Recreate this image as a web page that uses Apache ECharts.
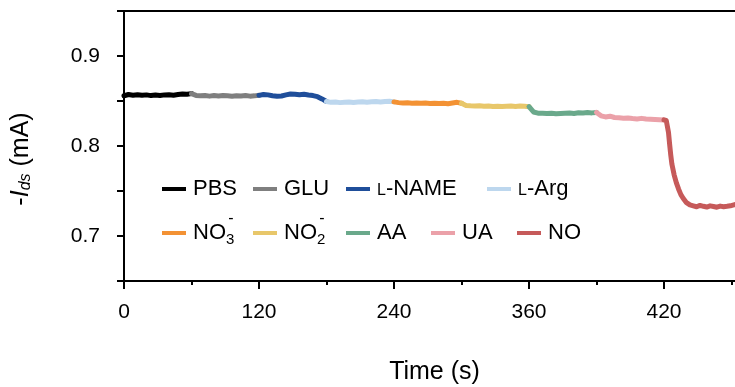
<!DOCTYPE html>
<html>
<head>
<meta charset="utf-8">
<script src="https://cdn.jsdelivr.net/npm/echarts@6/dist/echarts.min.js"></script>
<style>
  html, body { margin: 0; padding: 0; background: #ffffff; }
  #chart { width: 735px; height: 387px; }
</style>
</head>
<body>
<div id="chart"></div>
<script>
// Drain current (-Ids, mA) recorded while analytes are added one after another.
const segmentNames = ['PBS', 'GLU', 'L-NAME', 'L-Arg', 'NO3-', 'NO2-', 'AA', 'UA', 'NO'];
const segmentStarts = [0, 60, 120, 180, 240, 300, 360, 420];
const sampleStep = 4; // seconds between readings

const pbsCurrent   = [0.8558, 0.8572, 0.8565, 0.8570, 0.8563, 0.8568, 0.8560, 0.8566, 0.8562, 0.8568, 0.8570, 0.8565, 0.8572, 0.8578, 0.8576, 0.8582];
const gluCurrent   = [0.8582, 0.8562, 0.8558, 0.8562, 0.8554, 0.8560, 0.8556, 0.8562, 0.8558, 0.8553, 0.8559, 0.8556, 0.8561, 0.8554, 0.8557, 0.8563];
const lnameCurrent = [0.8563, 0.8573, 0.8568, 0.8558, 0.8553, 0.8556, 0.8568, 0.8578, 0.8576, 0.8570, 0.8574, 0.8566, 0.8560, 0.8548, 0.8523, 0.8495];
const largCurrent  = [0.8495, 0.8485, 0.8488, 0.8482, 0.8486, 0.8490, 0.8484, 0.8488, 0.8492, 0.8487, 0.8491, 0.8494, 0.8489, 0.8495, 0.8498, 0.8490];
const no3Current   = [0.8490, 0.8482, 0.8478, 0.8480, 0.8476, 0.8479, 0.8474, 0.8477, 0.8473, 0.8476, 0.8472, 0.8475, 0.8470, 0.8478, 0.8485, 0.8475];
const no2Current   = [0.8475, 0.8450, 0.8446, 0.8444, 0.8447, 0.8441, 0.8444, 0.8439, 0.8442, 0.8438, 0.8441, 0.8444, 0.8440, 0.8445, 0.8442, 0.8437];
const aaCurrent    = [0.8437, 0.8378, 0.8365, 0.8363, 0.8361, 0.8365, 0.8359, 0.8362, 0.8364, 0.8367, 0.8361, 0.8369, 0.8366, 0.8371, 0.8368, 0.8373];
const uaCurrent    = [0.8373, 0.8335, 0.8323, 0.8331, 0.8317, 0.8313, 0.8309, 0.8311, 0.8305, 0.8301, 0.8307, 0.8300, 0.8297, 0.8295, 0.8293, 0.8290];

// NO response: sharp drop, read at uneven times
const noTime    = [480, 482, 483, 484, 485, 486, 487, 489, 491, 493, 495, 497, 500, 503, 506, 509, 512, 515, 518, 521, 524, 527, 530, 533, 536, 539, 542, 543];
const noCurrent = [0.8290, 0.8285, 0.8265, 0.8150, 0.8020, 0.7900, 0.7800, 0.7680, 0.7590, 0.7520, 0.7460, 0.7420, 0.7370, 0.7345, 0.7335, 0.7325, 0.7340, 0.7330, 0.7322, 0.7335, 0.7328, 0.7320, 0.7332, 0.7326, 0.7330, 0.7335, 0.7345, 0.7350];

const xTickLabels = ['0', '120', '240', '360', '420'];
const yTickLabels = ['0.7', '0.8', '0.9'];

const segmentColors = ['#000000', '#7f7f7f', '#1f4e9a', '#bdd7ee', '#f39234', '#e8c76a', '#6aa98b', '#eba1a9', '#c65a5a'];

// legend placement: [left, top] for each entry
const legendSpots = [[162, 167], [253, 167], [346, 167], [487, 167], [162, 211], [253, 211], [346, 211], [431, 211], [517, 211]];

const legendRichNames = {
  'PBS': 'PBS',
  'GLU': 'GLU',
  'L-NAME': '{sc|L}-NAME',
  'L-Arg': '{sc|L}-Arg',
  'NO3-': 'NO{sub|3}{sup|-}',
  'NO2-': 'NO{sub|2}{sup|-}',
  'AA': 'AA',
  'UA': 'UA',
  'NO': 'NO'
};

const FONT = 'Liberation Sans, Arial, sans-serif';

const segmentValues = [pbsCurrent, gluCurrent, lnameCurrent, largCurrent, no3Current, no2Current, aaCurrent, uaCurrent];

function lineSeries(name, color, points) {
  return {
    name: name,
    type: 'line',
    xAxisIndex: 0,
    yAxisIndex: 0,
    showSymbol: false,
    symbol: 'none',
    lineStyle: { color: color, width: 5, join: 'round', cap: 'round' },
    itemStyle: { color: color },
    data: points
  };
}

const series = segmentValues.map((vals, k) =>
  lineSeries(segmentNames[k], segmentColors[k], vals.map((v, i) => [segmentStarts[k] + i * sampleStep, v]))
);
series.push(lineSeries(segmentNames[8], segmentColors[8], noTime.map((t, i) => [t, noCurrent[i]])));

const legendRich = {
  sc:  { fontSize: 16, lineHeight: 16, fontFamily: FONT, color: '#000', padding: [4, 0, 0, 0] },
  sub: { fontSize: 15, lineHeight: 15, fontFamily: FONT, color: '#000', padding: [13, 0, 0, 0] },
  sup: { fontSize: 16, lineHeight: 16, fontFamily: FONT, color: '#000', padding: [0, 0, 28, -6] }
};

const legends = segmentNames.map((name, k) => ({
  data: [name],
  left: legendSpots[k][0],
  top: legendSpots[k][1],
  padding: 0,
  icon: 'rect',
  itemWidth: 24,
  itemHeight: 4,
  selectedMode: false,
  formatter: n => legendRichNames[n],
  textStyle: { fontSize: 22, fontFamily: FONT, color: '#000', lineHeight: 44, padding: [0, 0, 0, 2], rich: legendRich }
}));

const axisBlack = { color: '#000', width: 2 };

const option = {
  animation: false,
  backgroundColor: '#ffffff',
  grid: { left: 124, top: 11, bottom: 106, right: -64, outerBoundsMode: 'none', containLabel: false },
  legend: legends,
  xAxis: [
    {
      type: 'value',
      position: 'bottom',
      min: 0,
      max: 600,
      interval: 120,
      axisLine: { show: true, onZero: false, lineStyle: axisBlack },
      axisTick: { show: true, length: 8, inside: false, lineStyle: axisBlack },
      minorTick: { show: true, splitNumber: 2, length: 4, lineStyle: axisBlack },
      splitLine: { show: false },
      minorSplitLine: { show: false },
      axisLabel: {
        show: true,
        margin: 21,
        fontSize: 21,
        fontFamily: FONT,
        color: '#000',
        showMinLabel: true,
        showMaxLabel: true,
        formatter: v => {
          const idx = Math.round(v / 120);
          if (Math.abs(v - idx * 120) > 1e-6) return '';
          return xTickLabels[idx] !== undefined ? xTickLabels[idx] : '';
        }
      },
      name: 'Time (s)',
      nameLocation: 'middle',
      nameGap: 79,
      nameTextStyle: { fontSize: 25, fontFamily: FONT, color: '#000', padding: [0, 54, 0, 0] }
    },
    {
      type: 'value',
      position: 'top',
      min: 0,
      max: 600,
      axisLine: { show: true, onZero: false, lineStyle: axisBlack },
      axisTick: { show: false },
      axisLabel: { show: false },
      splitLine: { show: false }
    }
  ],
  yAxis: {
    type: 'value',
    min: 0.65,
    max: 0.95,
    interval: 0.05,
    axisLine: { show: true, onZero: false, lineStyle: axisBlack },
    axisTick: { show: true, length: 7, inside: false, lineStyle: axisBlack },
    splitLine: { show: false },
    axisLabel: {
      margin: 24,
      fontSize: 21,
      fontFamily: FONT,
      color: '#000',
      formatter: v => {
        const s = (Math.round(v * 100) / 100).toFixed(2);
        const one = Number(v).toFixed(1);
        if (s.endsWith('0') && yTickLabels.includes(one)) return one;
        return '';
      }
    },
    name: '{n|-}{i|I}{s|ds}{n| (mA)}',
    nameLocation: 'middle',
    nameRotate: 90,
    nameGap: 88,
    nameTextStyle: {
      fontSize: 25,
      fontFamily: FONT,
      color: '#000',
      lineHeight: 30,
      padding: [0, 26, 0, 0],
      rich: {
        n: { fontSize: 25, fontFamily: FONT, color: '#000' },
        i: { fontSize: 25, fontFamily: FONT, fontStyle: 'italic', color: '#000' },
        s: { fontSize: 16, lineHeight: 16, fontFamily: FONT, fontStyle: 'italic', color: '#000', padding: [10, 0, 0, 0] }
      }
    }
  },
  series: series
};

const chart = echarts.init(document.getElementById('chart'), null, { renderer: 'canvas' });
chart.setOption(option);
</script>
</body>
</html>
